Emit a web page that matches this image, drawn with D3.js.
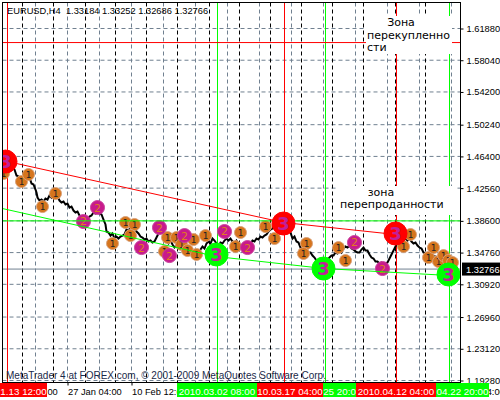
<!DOCTYPE html>
<html><head><meta charset="utf-8">
<script src="https://d3js.org/d3.v7.min.js"></script>
<style>html,body{margin:0;padding:0;background:#fff;overflow:hidden}svg{display:block}
.ui{font-family:"Liberation Sans",Arial,sans-serif;font-size:9.3px}
.zone{font-family:"DejaVu Sans",sans-serif;font-size:11px;fill:#000}
</style></head><body><svg id="c" width="500" height="400"></svg>
<script>
const priceTicks=[1.6188,1.5804,1.542,1.5024,1.464,1.4256,1.386,1.3476,1.3092,1.2696,1.2312,1.1928];
const timeTicks=[1,65,129,193,257,321,385,449];
const timeLabels=["13 Jan 12:00","27 Jan 04:00","10 Feb 12:00","24 Feb 20:00","11 Mar 04:00","25 Mar 12:00","8 Apr 20:00","22 Apr 04:00"];
const gridBars=[33,65,97,129,161,193,225,257,289,321,353,385,417,449];
const separatorBars=[20,51,83,113,144,175,207,237,268,299,330,361,393,423];
const header="EURUSD,H4  1.33184 1.33252 1.32686 1.32766";
const footer="MetaTrader 4 at FOREX.com, © 2001-2009 MetaQuotes Software Corp.";
const lastPrice=1.32766;
const levelRed=1.6018, levelGreen=1.386;
const redVerticals=[5,282,394];
const greenVerticals=[215,323,447];
const lineBars=[2,6,10,12,14,16,17,21,25,28,29,31,33,34,35,37,39,41,43,45,47,49,51,53,55,57,59,61,63,65,67,69,71,73,75,77,79,81,83,85,87,89,91,93,95,97,99,101,103,104,106,108,110,112,114,116,118,120,122,124,126,128,130,132,134,136,138,140,142,144,146,148,150,152,154,156,158,160,162,164,166,168,170,172,174,176,178,180,182,184,186,188,190,192,194,196,198,200,202,204,206,208,210,212,214,216,218,220,222,224,226,228,230,232,234,236,238,240,242,244,246,248,250,252,254,256,258,260,262,264,266,268,270,272,274,277,281,284,286,288,290,292,294,296,298,300,302,304,306,308,310,312,314,316,319,322,325,327,329,331,333,335,337,339,341,343,345,347,349,351,353,355,357,359,361,363,365,367,369,371,373,375,377,379,381,383,385,387,389,391,393,395,397,399,401,403,405,407,409,411,413,415,417,419,421,423,425,427,429,431,433,435,437,439,441,443,445,447,449,451,453,455];
const linePrices=[1.4615,1.459,1.453,1.4481,1.4409,1.4397,1.4372,1.4372,1.4397,1.4348,1.4312,1.43,1.4239,1.4203,1.4142,1.4106,1.4118,1.4094,1.413,1.4118,1.4167,1.4142,1.4179,1.4191,1.4154,1.4106,1.4082,1.4094,1.4058,1.407,1.4021,1.4033,1.3985,1.3961,1.3973,1.3925,1.39,1.3864,1.3876,1.3876,1.3912,1.3925,1.3961,1.3949,1.3973,1.3949,1.3937,1.3876,1.3816,1.3731,1.3719,1.3682,1.3707,1.3646,1.367,1.3646,1.367,1.3682,1.3695,1.3755,1.3731,1.3791,1.3755,1.3767,1.3731,1.3707,1.367,1.3658,1.3634,1.3646,1.361,1.3622,1.3598,1.361,1.3658,1.3707,1.3755,1.3719,1.367,1.361,1.3586,1.3622,1.3574,1.3537,1.3561,1.3525,1.3549,1.3501,1.3513,1.3477,1.3489,1.3453,1.3465,1.3428,1.3477,1.3501,1.3513,1.3549,1.3525,1.3586,1.361,1.3586,1.3646,1.3622,1.3586,1.3549,1.3598,1.3586,1.3622,1.3646,1.3622,1.3646,1.361,1.3586,1.3622,1.3586,1.3574,1.3549,1.3525,1.3525,1.3549,1.3586,1.3622,1.361,1.3646,1.3634,1.367,1.3658,1.3682,1.3695,1.3731,1.3755,1.3767,1.3804,1.384,1.384,1.384,1.3791,1.3731,1.3719,1.3646,1.367,1.361,1.3598,1.3537,1.3549,1.3501,1.3513,1.3477,1.3477,1.344,1.3416,1.338,1.3356,1.3319,1.3332,1.3392,1.3416,1.344,1.344,1.3477,1.3465,1.3501,1.3477,1.3525,1.3549,1.3537,1.3561,1.3525,1.3513,1.3489,1.3477,1.3477,1.3513,1.3537,1.3501,1.3501,1.3453,1.3416,1.3404,1.3368,1.3368,1.3344,1.3356,1.3332,1.3344,1.3356,1.3404,1.3453,1.3501,1.3549,1.3586,1.3622,1.361,1.3634,1.3646,1.3622,1.3646,1.361,1.3586,1.3598,1.3561,1.3537,1.3525,1.3477,1.3465,1.344,1.3465,1.3477,1.344,1.3428,1.3416,1.3392,1.3368,1.3356,1.3356,1.3332,1.3344,1.3332,1.3332,1.3307,1.3283];
const oneBars=[1,19,26,53,40,110,123,132,128,165,162,174,179,191,185,194,203,238,233,263,272,304,301,336,343,401,408,426,431,436,441,446,450];
const onePrices=[1.4433,1.4336,1.4421,1.4191,1.4033,1.3586,1.384,1.3816,1.3682,1.3658,1.3489,1.3658,1.3574,1.3634,1.3501,1.3453,1.3682,1.3719,1.3549,1.3791,1.3646,1.3586,1.3465,1.3537,1.338,1.3549,1.3695,1.3416,1.3537,1.3368,1.344,1.338,1.3356];
const twoBars=[2,95,81,157,139,167,182,222,245,352,380];
const twoPrices=[1.459,1.4021,1.3852,1.3779,1.3537,1.344,1.3682,1.3731,1.3537,1.3598,1.3283];
const redThreeBars=[3,281,393];
const redThreePrices=[1.4578,1.3828,1.3707];
const greenThreeBars=[214,321,446];
const greenThreePrices=[1.3453,1.3283,1.3211];
const redTrendBars=[5,281,393];
const redTrendPrices=[1.4578,1.384,1.3695];
const greenTrendBars=[0,214,322,446];
const greenTrendPrices=[1.4009,1.3428,1.3283,1.3199];
const priceLabelBoxes=[
 {t:"1.13 12:00",f:"#ff0000",b:-2.5,e:44.5},
 {t:"2010.03.02 08:00",f:"#00ff00",b:174.5,e:254.5},
 {t:"10.03.17 04:00",f:"#ff0000",b:254.5,e:320.5},
 {t:"25 20:0",f:"#00ff00",b:320.5,e:353.5},
 {t:"2010.04.12 04:00",f:"#ff0000",b:353.5,e:433.5},
 {t:"04.22 20:00",f:"#00ff00",b:433.5,e:486.5}];

const svg=d3.select("#c");
const x=d3.scaleLinear().domain([0,458]).range([2.5,460.5]);
const y=d3.scaleLinear().domain([1.1928,1.6188]).range([380.5,28.5]);
const L=2.5,R=460.5,T=2.5,B=382.5;
const SG="#708090";
const defs=svg.append("defs");
defs.append("clipPath").attr("id","pl").append("rect").attr("x",3).attr("y",3).attr("width",457).attr("height",379);
svg.append("rect").attr("width",500).attr("height",400).attr("fill","#fff");
const g=svg.append("g").attr("clip-path","url(#pl)");
g.selectAll(".hg").data(priceTicks).join("line").attr("x1",L).attr("x2",R).attr("y1",d=>y(d)).attr("y2",d=>y(d)).attr("stroke",SG).attr("stroke-dasharray","4,3");
g.selectAll(".vg").data(gridBars).join("line").attr("x1",d=>x(d)).attr("x2",d=>x(d)).attr("y1",T).attr("y2",B).attr("stroke",SG).attr("stroke-dasharray","4,3");
g.selectAll(".vs").data(separatorBars).join("line").attr("x1",d=>x(d)).attr("x2",d=>x(d)).attr("y1",T).attr("y2",B).attr("stroke","#000").attr("stroke-dasharray","4,3");
g.append("line").attr("x1",L).attr("x2",R).attr("y1",y(lastPrice)).attr("y2",y(lastPrice)).attr("stroke",SG);
redVerticals.forEach(b=>g.append("line").attr("x1",x(b)).attr("x2",x(b)).attr("y1",T).attr("y2",B).attr("stroke","#f00"));
greenVerticals.forEach(b=>g.append("line").attr("x1",x(b)).attr("x2",x(b)).attr("y1",T).attr("y2",B).attr("stroke","#0f0"));
const line=d3.line().x(d=>x(d[0])).y(d=>y(d[1]));
g.append("path").attr("d",line(d3.zip(lineBars,linePrices))).attr("fill","none").attr("stroke","#000").attr("stroke-width",2);
function marks(bs,ps,r,fill,color,label,fs,edge){
 const m=g.append("g").selectAll("g").data(d3.zip(bs,ps)).join("g").attr("transform",d=>`translate(${x(d[0])},${y(d[1])})`);
 m.append("circle").attr("r",r).attr("fill",fill).attr("stroke",edge).attr("stroke-width",1);
 m.append("text").attr("text-anchor","middle").attr("dy","0.36em").attr("font-family","DejaVu Sans").attr("font-size",fs).attr("font-weight",r>8?"bold":"normal").attr("fill",color).text(label);
}
marks(oneBars,onePrices,6,"#d6751d","#222","1",9,"#d9a17a");
marks(twoBars,twoPrices,7,"#c81a8c","#e07a20","2",11,"#c9409c");
g.append("line").attr("x1",L).attr("x2",R).attr("y1",y(levelGreen)).attr("y2",y(levelGreen)).attr("stroke","#0f0");
g.append("line").attr("x1",L).attr("x2",R).attr("y1",y(levelRed)).attr("y2",y(levelRed)).attr("stroke","#f00");
g.append("path").attr("d",line(d3.zip(redTrendBars,redTrendPrices))).attr("fill","none").attr("stroke","#f00");
g.append("path").attr("d",line(d3.zip(greenTrendBars,greenTrendPrices))).attr("fill","none").attr("stroke","#0f0");
marks(redThreeBars,redThreePrices,11.5,"#ff0000","#c0209a","3",18,"#ff0000");
marks(greenThreeBars,greenThreePrices,11.5,"#00ff00","#c0209a","3",18,"#00ff00");
// zone text boxes
svg.append("rect").attr("x",366).attr("y",16).attr("width",86).attr("height",38).attr("fill","#fff");
svg.append("rect").attr("x",337).attr("y",186).attr("width",118).attr("height",29).attr("fill","#fff");
const zone=[["Зона",401,26,"middle"],["перекупленно",367,39,"start"],["сти",367,51,"start"],["зона",381,196,"middle"],["перепроданности",340,208,"start"]];
zone.forEach(z=>svg.append("text").attr("class","zone").attr("x",z[1]).attr("y",z[2]).attr("text-anchor",z[3]).text(z[0]));
// frame + axes
svg.append("rect").attr("x",L).attr("y",T).attr("width",R-L).attr("height",B-T).attr("fill","none").attr("stroke","#000");
const yAxis=d3.axisRight(y).tickValues(priceTicks).tickFormat(d3.format(".5f")).tickSize(3).tickPadding(3);
svg.append("g").attr("class","ui").attr("transform",`translate(${R},0)`).call(yAxis).call(a=>a.select(".domain").remove()).selectAll("text").attr("font-size",9.3).attr("font-family","Liberation Sans").attr("fill","#000");
const xAxis=d3.axisBottom(x).tickValues(timeTicks).tickFormat((d,i)=>timeLabels[i]).tickSize(3).tickPadding(3);
svg.append("g").attr("class","ui").attr("transform",`translate(0,${B})`).call(xAxis).call(a=>a.select(".domain").remove()).selectAll("text").attr("text-anchor","start").attr("x",0).attr("font-size",9.3).attr("font-family","Liberation Sans").attr("fill","#000");
priceLabelBoxes.forEach(p=>{
 svg.append("rect").attr("x",x(p.b)).attr("y",383).attr("width",x(p.e)-x(p.b)).attr("height",14).attr("fill",p.f);
 svg.append("text").attr("x",(x(p.b)+x(p.e))/2).attr("y",394.5).attr("text-anchor","middle").attr("fill","#fff").attr("font-family","Liberation Sans").attr("font-size",9.8).text(p.t);
});
svg.append("rect").attr("x",462).attr("y",y(lastPrice)-6.5).attr("width",38).attr("height",13).attr("fill","#000");
svg.append("text").attr("class","ui").attr("x",466).attr("y",y(lastPrice)+3.5).attr("fill","#fff").text(d3.format(".5f")(lastPrice));
svg.append("text").attr("class","ui").attr("x",7).attr("y",14).style("white-space","pre").attr("fill","#000").text(header);
svg.append("text").attr("x",6).attr("y",379).attr("font-family","Liberation Sans").attr("font-size",10).attr("fill","#1a2a4a").text(footer);
</script></body></html>
